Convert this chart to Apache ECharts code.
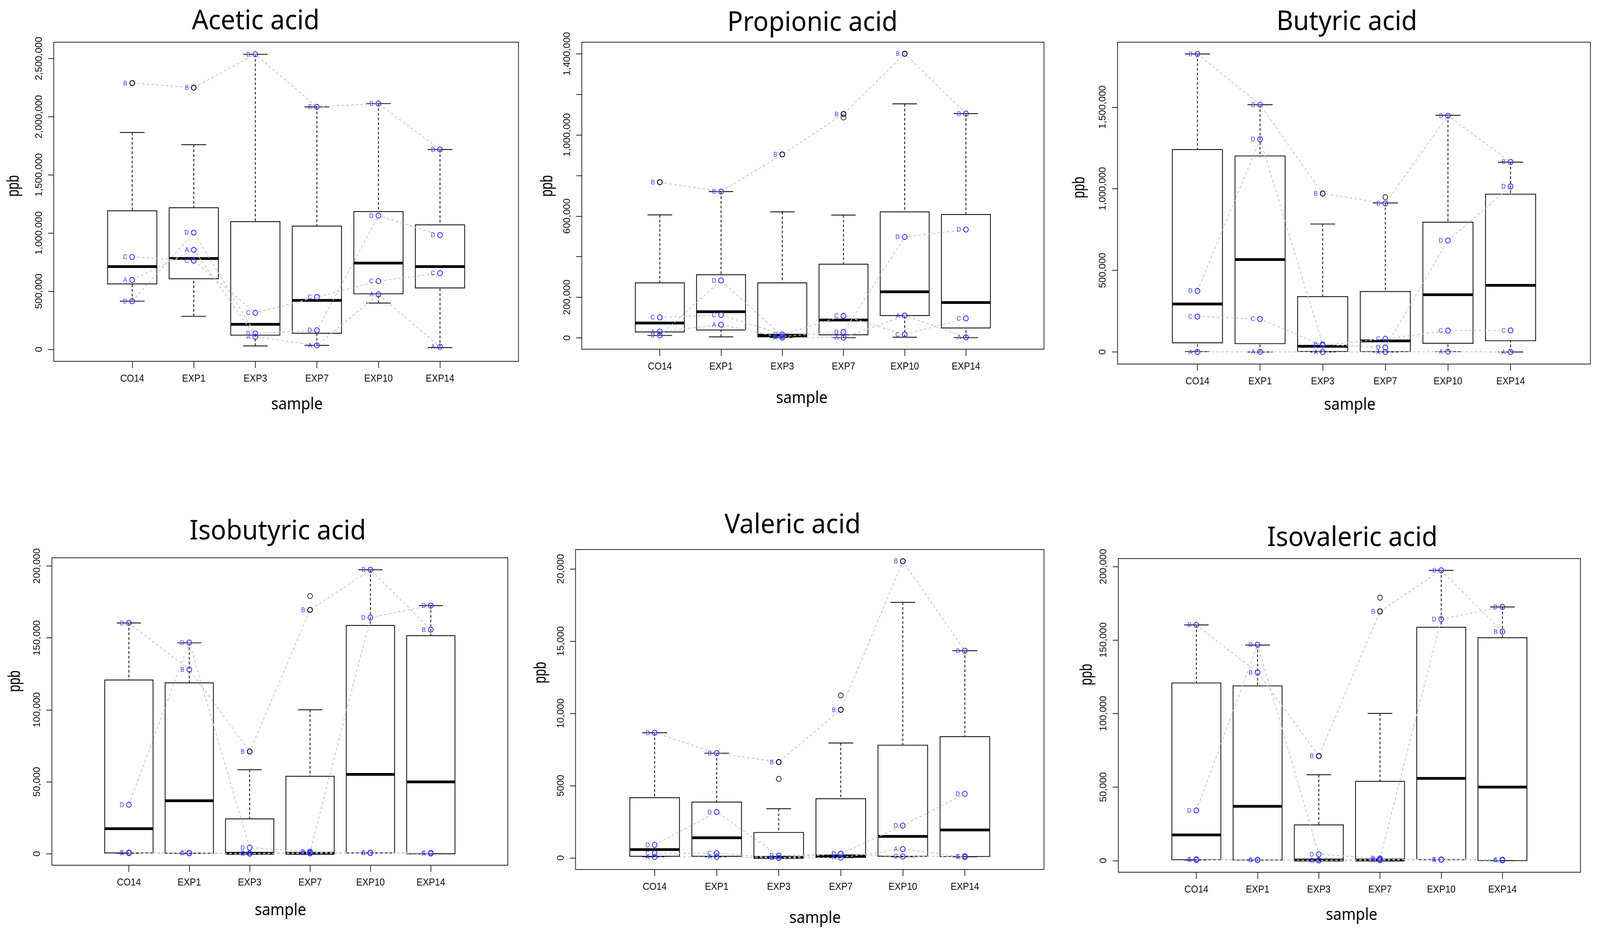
<!DOCTYPE html>
<html>
<head>
<meta charset="utf-8">
<title>Short-chain fatty acids by sample</title>
<script src="https://cdn.jsdelivr.net/npm/echarts@6/dist/echarts.min.js"></script>
<style>
html,body{margin:0;padding:0;background:#fff;overflow:hidden}
#wrap{position:fixed;left:0;top:0;width:100vw;height:100vh;overflow:hidden;background:#fff}
#main{width:4348px;height:2386px;transform-origin:0 0}
</style>
</head>
<body>
<div id="wrap"><div id="main"></div></div>
<script>
var samples = ['CO14', 'EXP1', 'EXP3', 'EXP7', 'EXP10', 'EXP14'];
var subjects = ['A', 'B', 'C', 'D'];

// box stats per sample: [lower whisker, Q1, median, Q3, upper whisker]
var aceticBox = [[415000, 563000, 712000, 1192000, 1865000], [285000, 608000, 782000, 1218000, 1760000],
	[30000, 123000, 216000, 1099000, 2537000], [35000, 139000, 422000, 1060000, 2085000],
	[399000, 478000, 742000, 1185000, 2113000], [16000, 529000, 712000, 1071000, 1718000]];
var aceticA = [598000, 856000, 109000, 35000, 473000, 23000];
var aceticB = [2289000, 2250000, 2537000, 2085000, 2113000, 1718000];
var aceticC = [795000, 763000, 315000, 450000, 587000, 656000];
var aceticD = [415000, 1004000, 137000, 165000, 1150000, 983000];
var aceticOut = [['CO14', 2289000], ['EXP1', 2250000]];
var aceticTicks = [0, 500000, 1000000, 1500000, 2000000, 2500000];
var aceticLabels = ['0', '500,000', '1,000,000', '1,500,000', '2,000,000', '2,500,000'];
var aceticLim = [-102000, 2641000];

var propionicBox = [[12000, 29000, 73000, 271000, 606000], [5000, 38600, 129000, 311000, 721000],
	[1000, 5000, 13000, 271000, 621000], [1000, 15000, 88000, 363000, 605000],
	[3000, 110000, 227000, 621000, 1153000], [1000, 49000, 174000, 608000, 1105000]];
var propionicA = [31000, 65000, 1000, 1000, 110000, 3000];
var propionicB = [767000, 721000, 904000, 1103000, 1400000, 1105000];
var propionicC = [101000, 113000, 17000, 109000, 17000, 96000];
var propionicD = [12000, 283000, 8000, 29000, 497000, 534000];
var propionicOut = [['CO14', 767000], ['EXP3', 904000], ['EXP7', 1103000], ['EXP7', 1086000], ['EXP10', 1400000]];
var propionicTicks = [0, 200000, 400000, 600000, 800000, 1000000, 1200000, 1400000];
var propionicLabelVals = [0, 200000, 600000, 1000000, 1400000];
var propionicLabels = ['0', '200,000', '600,000', '1,000,000', '1,400,000'];
var propionicLim = [-55800, 1457000];

var butyricBox = [[2000, 56000, 294000, 1240000, 1826000], [0, 51000, 566000, 1201000, 1515000],
	[0, 3000, 35000, 339000, 784000], [0, 2000, 68000, 370000, 913000],
	[2000, 53000, 351000, 795000, 1450000], [0, 69000, 408000, 967000, 1163000]];
var butyricA = [0, 1000, 0, 0, 2000, 0];
var butyricB = [1826000, 1515000, 971000, 910000, 1447000, 1164000];
var butyricC = [217000, 202000, 41000, 81000, 131000, 132000];
var butyricD = [374000, 1303000, 46000, 28000, 683000, 1014000];
var butyricOut = [['EXP3', 971000], ['EXP7', 949000]];
var butyricTicks = [0, 500000, 1000000, 1500000];
var butyricLabels = ['0', '500,000', '1,000,000', '1,500,000'];
var butyricLim = [-74000, 1898000];

var isobutyricBox = [[400, 600, 17500, 120800, 160400], [400, 400, 36900, 118800, 146600],
	[0, 0, 400, 24300, 58400], [0, 0, 400, 53900, 100100],
	[600, 600, 55200, 158700, 197400], [0, 0, 50000, 151600, 172500]];
var isobutyricA = [500, 400, 100, 300, 600, 200];
var isobutyricB = [160400, 128000, 71100, 169500, 197400, 155700];
var isobutyricC = [900, 600, 300, 800, 800, 600];
var isobutyricD = [34100, 146800, 4300, 1500, 164200, 172500];
var isobutyricOut = [['EXP3', 71100], ['EXP7', 169500], ['EXP7', 179100]];
var isobutyricTicks = [0, 50000, 100000, 150000, 200000];
var isobutyricLabels = ['0', '50,000', '100,000', '150,000', '200,000'];
var isobutyricLim = [-7900, 205700];

var valericBox = [[76, 115, 574, 4168, 8662], [76, 115, 1396, 3862, 7247],
	[0, 0, 38, 1759, 3403], [19, 38, 134, 4092, 7954],
	[76, 115, 1491, 7801, 17686], [76, 96, 1931, 8394, 14340]];
var valericA = [57, 76, 0, 19, 612, 57];
var valericB = [8662, 7247, 6635, 10249, 20535, 14340];
var valericC = [325, 325, 0, 287, 96, 115];
var valericD = [899, 3174, 153, 287, 2237, 4436];
var valericOut = [['EXP3', 6635], ['EXP3', 5468], ['EXP7', 10249], ['EXP7', 11243], ['EXP10', 20535]];
var valericTicks = [0, 5000, 10000, 15000, 20000];
var valericLabels = ['0', '5000', '10,000', '15,000', '20,000'];
var valericLim = [-803, 21338];

var isovalericBox = [[400, 600, 17500, 120800, 160300], [400, 400, 36900, 118800, 146600],
	[0, 0, 400, 24300, 58400], [0, 0, 400, 53900, 100100],
	[600, 600, 55900, 158700, 197400], [0, 0, 50000, 151600, 172500]];
var isovalericA = [500, 400, 100, 300, 600, 200];
var isovalericB = [160300, 128000, 71100, 169500, 197400, 155700];
var isovalericC = [900, 600, 300, 800, 800, 600];
var isovalericD = [34100, 146800, 4300, 1500, 164200, 172500];
var isovalericOut = [['EXP3', 71100], ['EXP7', 169500], ['EXP7', 178800]];
var isovalericTicks = [0, 50000, 100000, 150000, 200000];
var isovalericLabels = ['0', '50,000', '100,000', '150,000', '200,000'];
var isovalericLim = [-7900, 205400];

// layout of each panel (pixels in a 4348 x 2386 page)
var panels = [
	{title: 'Acetic acid', box: aceticBox, pts: [aceticA, aceticB, aceticC, aceticD], out: aceticOut,
		ticks: aceticTicks, labVals: aceticTicks, labs: aceticLabels, lim: aceticLim,
		grid: [146, 108, 1263, 817], titleAt: [695, 48], sampleAt: [807, 1032], ppbAt: [34, 476]},
	{title: 'Propionic acid', box: propionicBox, pts: [propionicA, propionicB, propionicC, propionicD], out: propionicOut,
		ticks: propionicTicks, labVals: propionicLabelVals, labs: propionicLabels, lim: propionicLim,
		grid: [1581, 108, 1256, 786], titleAt: [2208, 52], sampleAt: [2179, 1016], ppbAt: [1484, 476]},
	{title: 'Butyric acid', box: butyricBox, pts: [butyricA, butyricB, butyricC, butyricD], out: butyricOut,
		ticks: butyricTicks, labVals: butyricTicks, labs: butyricLabels, lim: butyricLim,
		grid: [3037, 108, 1285, 824], titleAt: [3660, 50], sampleAt: [3668, 1033], ppbAt: [2930, 480]},
	{title: 'Isobutyric acid', box: isobutyricBox, pts: [isobutyricA, isobutyricB, isobutyricC, isobutyricD], out: isobutyricOut,
		ticks: isobutyricTicks, labVals: isobutyricTicks, labs: isobutyricLabels, lim: isobutyricLim,
		grid: [141, 1428, 1239, 787], titleAt: [755, 1354], sampleAt: [762, 2327], ppbAt: [37, 1744]},
	{title: 'Valeric acid', box: valericBox, pts: [valericA, valericB, valericC, valericD], out: valericOut,
		ticks: valericTicks, labVals: valericTicks, labs: valericLabels, lim: valericLim,
		grid: [1564, 1407, 1273, 819], titleAt: [2154, 1338], sampleAt: [2215, 2347], ppbAt: [1466, 1722]},
	{title: 'Isovaleric acid', box: isovalericBox, pts: [isovalericA, isovalericB, isovalericC, isovalericD], out: isovalericOut,
		ticks: isovalericTicks, labVals: isovalericTicks, labs: isovalericLabels, lim: isovalericLim,
		grid: [3039, 1430, 1256, 803], titleAt: [3675, 1371], sampleAt: [3673, 2339], ppbAt: [2950, 1727]}
];

var xPos = samples.map(function (s, k) { return k + 1; });
var BLUE = '#3a3aff';

function renderBox(params, api) {
	var x = api.value(0);
	var lo = api.coord([x, api.value(1)]);
	var q1 = api.coord([x, api.value(2)]);
	var md = api.coord([x, api.value(3)]);
	var q3 = api.coord([x, api.value(4)]);
	var hi = api.coord([x, api.value(5)]);
	var bl = api.coord([x - 0.4, 0])[0], br = api.coord([x + 0.4, 0])[0];
	var sl = api.coord([x - 0.2, 0])[0], sr = api.coord([x + 0.2, 0])[0];
	var solid = {stroke: '#111', lineWidth: 2.2, fill: null};
	var dash = {stroke: '#111', lineWidth: 2.2, lineDash: [7, 5]};
	return {type: 'group', children: [
		{type: 'line', shape: {x1: hi[0], y1: hi[1], x2: q3[0], y2: q3[1]}, style: dash},
		{type: 'line', shape: {x1: lo[0], y1: lo[1], x2: q1[0], y2: q1[1]}, style: dash},
		{type: 'line', shape: {x1: sl, y1: hi[1], x2: sr, y2: hi[1]}, style: solid},
		{type: 'line', shape: {x1: sl, y1: lo[1], x2: sr, y2: lo[1]}, style: solid},
		{type: 'rect', shape: {x: bl, y: q3[1], width: br - bl, height: q1[1] - q3[1]}, style: solid},
		{type: 'line', shape: {x1: bl, y1: md[1], x2: br, y2: md[1]}, style: {stroke: '#000', lineWidth: 7}}
	]};
}

var option = {
	animation: false,
	backgroundColor: '#fff',
	grid: [], xAxis: [], yAxis: [], series: [], graphic: []
};

panels.forEach(function (p, i) {
	option.grid.push({left: p.grid[0], top: p.grid[1], width: p.grid[2], height: p.grid[3],
		show: true, borderColor: '#222', borderWidth: 2, backgroundColor: 'transparent'});
	option.xAxis.push({
		gridIndex: i, type: 'value', min: -0.275, max: 7.275,
		axisLine: {show: false, onZero: false}, splitLine: {show: false},
		axisTick: {show: true, length: 17, customValues: xPos, lineStyle: {color: '#222', width: 2}},
		axisLabel: {customValues: xPos, margin: 31, fontSize: 25, color: '#111', fontFamily: 'Liberation Sans',
			formatter: function (v) { return samples[Math.round(v) - 1]; }}
	});
	var labMap = {};
	p.labVals.forEach(function (v, k) { labMap[v] = p.labs[k]; });
	option.yAxis.push({
		gridIndex: i, type: 'value', min: p.lim[0], max: p.lim[1],
		axisLine: {show: false, onZero: false}, splitLine: {show: false},
		axisTick: {show: true, length: 15, customValues: p.ticks, lineStyle: {color: '#222', width: 2}},
		axisLabel: {customValues: p.labVals, rotate: 90, margin: 29, fontSize: 25, color: '#111', fontFamily: 'Liberation Sans',
			formatter: function (v) { return labMap[v]; }}
	});
	option.series.push({
		type: 'custom', xAxisIndex: i, yAxisIndex: i, silent: true, z: 2,
		renderItem: renderBox,
		encode: {x: 0, y: [1, 2, 3, 4, 5]},
		data: p.box.map(function (b, k) { return [k + 1].concat(b); })
	});
	p.pts.forEach(function (vals, s) {
		option.series.push({
			type: 'line', xAxisIndex: i, yAxisIndex: i, silent: true, z: 3,
			data: vals.map(function (v, k) { return [k + 1, v]; }),
			lineStyle: {color: '#c6c6c6', width: 2.2, type: [7, 6]},
			symbol: 'circle', symbolSize: 13, showSymbol: true,
			itemStyle: {color: 'rgba(0,0,0,0)', borderColor: BLUE, borderWidth: 2.2},
			label: {show: true, position: 'left', distance: 6, color: BLUE, fontSize: 16,
				fontFamily: 'Liberation Sans', formatter: subjects[s]}
		});
	});
	option.series.push({
		type: 'scatter', xAxisIndex: i, yAxisIndex: i, silent: true, z: 4,
		symbol: 'circle', symbolSize: 13,
		itemStyle: {color: 'rgba(0,0,0,0)', borderColor: '#111', borderWidth: 2.2},
		data: p.out.map(function (o) { return [samples.indexOf(o[0]) + 1, o[1]]; })
	});
	option.graphic.push(
		{type: 'text', x: p.titleAt[0], y: p.titleAt[1], silent: true,
			style: {text: p.title, fill: '#000', font: '70px "Noto Sans"', align: 'center', verticalAlign: 'middle',
				textAlign: 'center', textVerticalAlign: 'middle'}},
		{type: 'text', x: p.sampleAt[0], y: p.sampleAt[1], silent: true,
			style: {text: 'sample', fill: '#000', font: '41px "Noto Sans"', align: 'center', verticalAlign: 'middle',
				textAlign: 'center', textVerticalAlign: 'middle'}},
		// the y name in the source is stretched along its (vertical) reading direction
		{type: 'text', x: p.ppbAt[0], y: p.ppbAt[1], rotation: Math.PI / 2, scaleY: 1.45, silent: true,
			style: {text: 'ppb', fill: '#000', font: '33px "Liberation Sans"', align: 'center', verticalAlign: 'middle',
				textAlign: 'center', textVerticalAlign: 'middle'}}
	);
});

// fit the 4348 x 2386 layout into whatever viewport the page gets
var wrap = document.getElementById('wrap');
var el = document.getElementById('main');
var kx = (wrap.clientWidth || 4348) / 4348, ky = (wrap.clientHeight || 2386) / 2386;
el.style.transform = 'scale(' + kx + ',' + ky + ')';

var myChart = echarts.init(el, null, {renderer: 'svg'});
myChart.setOption(option);
</script>
</body>
</html>
